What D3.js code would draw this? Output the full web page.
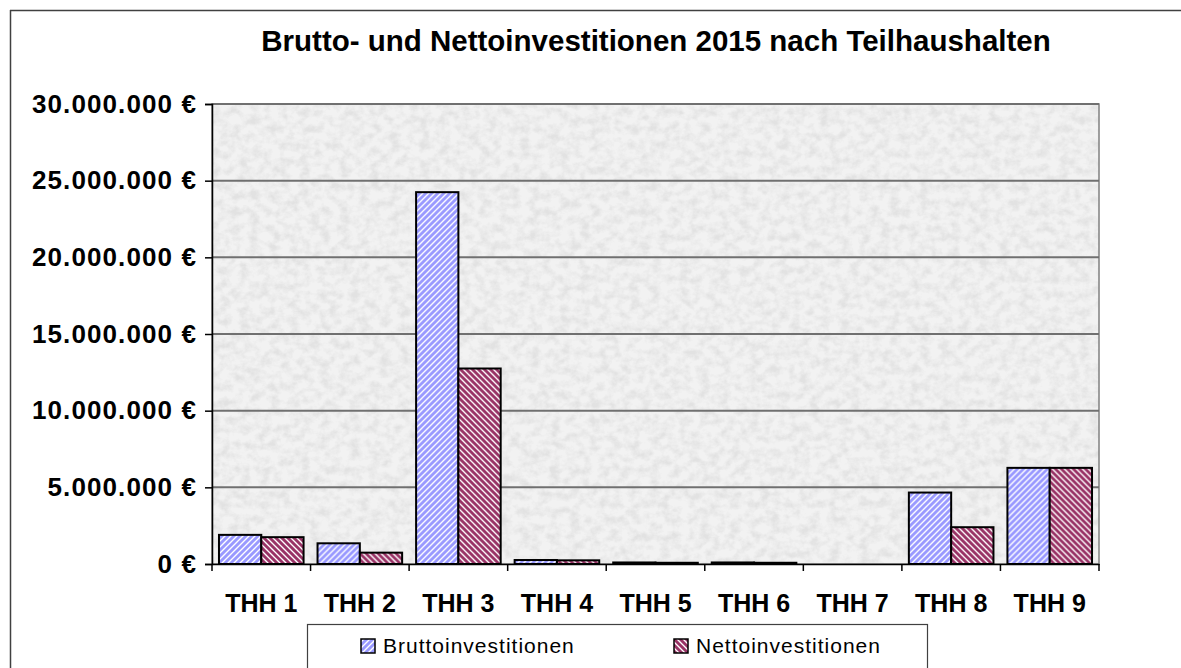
<!DOCTYPE html>
<html>
<head>
<meta charset="utf-8">
<script src="https://cdn.jsdelivr.net/npm/d3@7"></script>
<style>
  html, body { margin: 0; background: #fff; overflow: hidden; }
  svg { display: block; font-family: Arial, "Liberation Sans", sans-serif; }
</style>
</head>
<body>
<svg id="chart" width="1181" height="668"></svg>
<script>
// Brutto- und Nettoinvestitionen 2015, values in euro

const categories = ['THH 1', 'THH 2', 'THH 3', 'THH 4', 'THH 5', 'THH 6', 'THH 7', 'THH 8', 'THH 9']
const series = ['Bruttoinvestitionen', 'Nettoinvestitionen']
const brutto = [1900000, 1350000, 24250000, 260000, 100000, 100000, 0, 4660000, 6270000]
const netto = [1750000, 740000, 12750000, 240000, 80000, 80000, 0, 2400000, 6270000]
const yTicks = [0, 5000000, 10000000, 15000000, 20000000, 25000000, 30000000]

const svg = d3.select('#chart')
const plot = {left: 212, right: 1099, top: 104, bottom: 564}

const x = d3.scaleBand().domain(categories).range([plot.left, plot.right]).padding(0)
const xs = d3.scaleBand().domain(series).range([0, x.bandwidth()]).paddingInner(0).paddingOuter(0.165)
const y = d3.scaleLinear().domain([0, 30000000]).range([plot.bottom, plot.top])

const fmt = v => d3.format(',')(v).replace(/,/g, '.') + ' €'

const defs = svg.append('defs')

// granite like background of the plot area
const f = defs.append('filter').attr('id', 'granite')
    .attr('x', 0).attr('y', 0).attr('width', 1).attr('height', 1)
f.append('feTurbulence').attr('type', 'fractalNoise')
    .attr('baseFrequency', '0.1 0.12').attr('numOctaves', 4).attr('seed', 7).attr('result', 'n')
f.append('feColorMatrix').attr('in', 'n').attr('type', 'matrix')
    .attr('values', '0 0 0 0 0.76  0 0 0 0 0.76  0 0 0 0 0.76  0 0 0 2.4 -0.9')
    .attr('result', 'c')
f.append('feFlood').attr('flood-color', '#f2f2f2').attr('result', 'bg')
f.append('feComposite').attr('in', 'c').attr('in2', 'bg').attr('operator', 'over')

// stripe patterns for the two series
function stripes(id, color, dir) {
    const p = defs.append('pattern').attr('id', id)
        .attr('patternUnits', 'userSpaceOnUse')
        .attr('width', 6).attr('height', 6)
    p.append('rect').attr('width', 6).attr('height', 6).attr('fill', '#fff')
    const d = dir > 0
        ? 'M-1,1 l2,-2 M0,6 l6,-6 M5,7 l2,-2'
        : 'M-1,5 l2,2 M0,0 l6,6 M5,-1 l2,2'
    p.append('path').attr('d', d).attr('stroke', color).attr('stroke-width', 2.9)
}
stripes('pBrutto', '#9999ff', 1)
stripes('pNetto', '#993366', -1)
const fills = {Bruttoinvestitionen: 'url(#pBrutto)', Nettoinvestitionen: 'url(#pNetto)'}

// outer chart border (only left and top are in view)
svg.append('line')
    .attr('x1', 10.5).attr('x2', 10.5).attr('y1', 10).attr('y2', 668)
    .attr('stroke', '#404040').attr('stroke-width', 1.5)
svg.append('line')
    .attr('x1', 10).attr('x2', 1181).attr('y1', 10.5).attr('y2', 10.5)
    .attr('stroke', '#404040').attr('stroke-width', 1.5)

// title
svg.append('text')
    .attr('x', 656).attr('y', 51)
    .attr('text-anchor', 'middle')
    .attr('font-size', 29.5).attr('font-weight', 'bold')
    .text('Brutto- und Nettoinvestitionen 2015 nach Teilhaushalten')

// plot area
svg.append('rect')
    .attr('x', plot.left).attr('y', plot.top)
    .attr('width', plot.right - plot.left).attr('height', plot.bottom - plot.top)
    .attr('filter', 'url(#granite)')
svg.append('rect')
    .attr('x', plot.left).attr('y', plot.top)
    .attr('width', plot.right - plot.left).attr('height', plot.bottom - plot.top)
    .attr('fill', 'none').attr('stroke', '#808080').attr('stroke-width', 1.5)

// gridlines
svg.append('g').selectAll('line')
    .data(yTicks.filter(d => d > 0))
    .enter().append('line')
    .attr('x1', plot.left).attr('x2', plot.right)
    .attr('y1', d => y(d)).attr('y2', d => y(d))
    .attr('stroke', '#707070').attr('stroke-width', 2)

// y axis
const yAxis = svg.append('g')
    .attr('transform', `translate(${plot.left},0)`)
    .call(d3.axisLeft(y).tickValues(yTicks).tickFormat(fmt).tickSize(7).tickPadding(8))
yAxis.select('.domain').attr('stroke', '#000').attr('stroke-width', 1.5)
yAxis.selectAll('.tick line').attr('stroke', '#000').attr('stroke-width', 1.5)
yAxis.selectAll('.tick text')
    .attr('font-size', 26).attr('font-weight', 'bold')
    .attr('font-family', 'Arial, "Liberation Sans", sans-serif')
    .attr('fill', '#000').attr('letter-spacing', 1.1)

// bars
const rows = categories.map((c, i) => ({cat: c, values: [
    {key: series[0], value: brutto[i]},
    {key: series[1], value: netto[i]}
]}))

svg.append('g').selectAll('g')
    .data(rows)
    .enter().append('g')
    .attr('transform', d => `translate(${x(d.cat)},0)`)
    .selectAll('rect')
    .data(d => d.values.filter(v => v.value > 0))
    .enter().append('rect')
    .attr('x', d => xs(d.key))
    .attr('y', d => y(d.value))
    .attr('width', xs.bandwidth())
    .attr('height', d => y(0) - y(d.value))
    .attr('fill', d => fills[d.key])
    .attr('stroke', '#000').attr('stroke-width', 2)

// x axis
const xAxis = svg.append('g')
    .attr('transform', `translate(0,${plot.bottom})`)
    .call(d3.axisBottom(x).tickSize(0).tickPadding(48))
xAxis.select('.domain').attr('stroke', '#000').attr('stroke-width', 1.5)
xAxis.selectAll('.tick text')
    .attr('font-size', 25).attr('font-weight', 'bold')
    .attr('font-family', 'Arial, "Liberation Sans", sans-serif')
    .attr('fill', '#000').attr('dy', 0)
xAxis.append('g').selectAll('line')
    .data(d3.range(categories.length + 1))
    .enter().append('line')
    .attr('x1', i => plot.left + i * x.step()).attr('x2', i => plot.left + i * x.step())
    .attr('y1', 0).attr('y2', 7)
    .attr('stroke', '#000').attr('stroke-width', 1.5)

// legend
const legend = svg.append('g')
legend.append('rect')
    .attr('x', 307.5).attr('y', 624.5).attr('width', 620).attr('height', 80)
    .attr('fill', '#fff').attr('stroke', '#404040').attr('stroke-width', 1.2)
const legendX = [361, 674]
const items = legend.selectAll('g.item')
    .data(series)
    .enter().append('g')
    .attr('class', 'item')
    .attr('transform', (d, i) => `translate(${legendX[i]},639)`)
items.append('rect')
    .attr('width', 14).attr('height', 14)
    .attr('fill', d => fills[d])
    .attr('stroke', '#000').attr('stroke-width', 1.5)
items.append('text')
    .attr('x', 22).attr('y', 14)
    .attr('font-size', 21)
    .attr('letter-spacing', 1)
    .text(d => d)
</script>
</body>
</html>
